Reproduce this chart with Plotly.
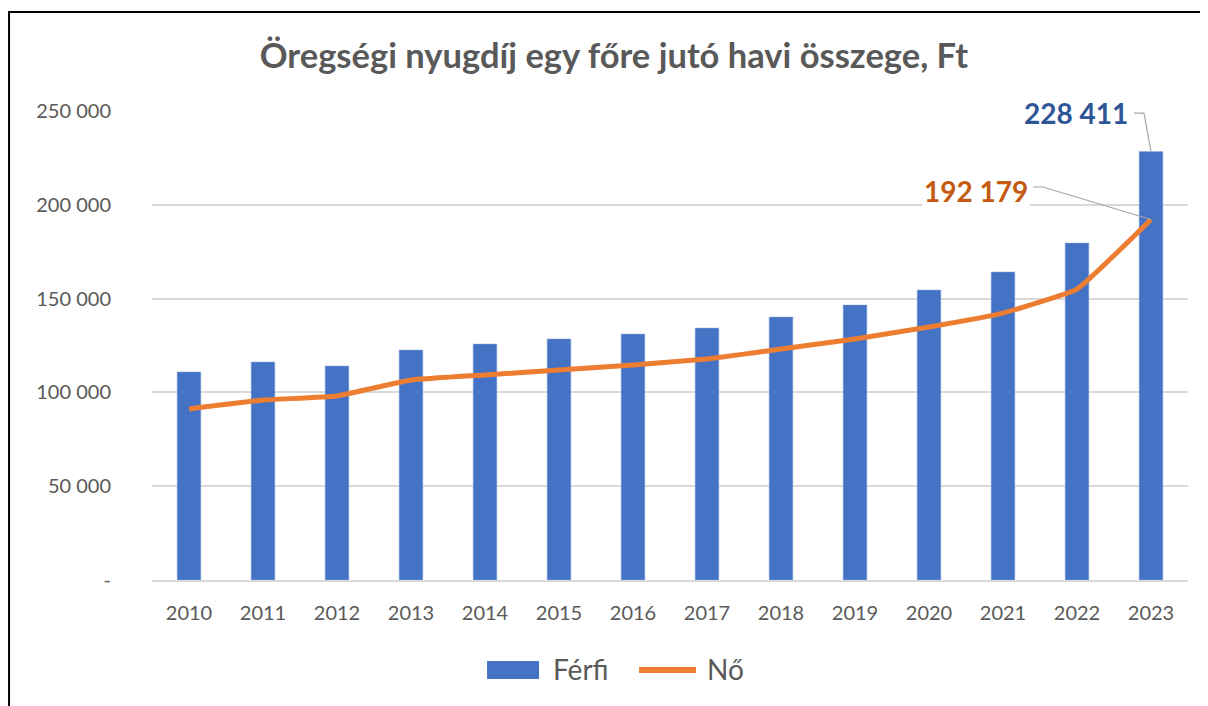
import plotly.graph_objects as go

# ── Adatok ──
years = [2010, 2011, 2012, 2013, 2014, 2015, 2016, 2017, 2018, 2019, 2020, 2021, 2022, 2023]
ferfi = [110900, 116200, 114100, 122600, 125800, 128500, 131100, 134300, 140200, 146600, 154600, 164200, 179600, 228411]
no = [91200, 95900, 98100, 106600, 109300, 111900, 114600, 117800, 123100, 128500, 134900, 142300, 155100, 192179]
y_ticks = [0, 50000, 100000, 150000, 200000, 250000]
y_ticktext = ["-", "50 000", "100 000", "150 000", "200 000", "250 000"]

FONT = "Lato, Open Sans, sans-serif"
GREY = "#595959"
BLUE = "#4472C4"
ORANGE = "#ED7D31"


def fmt(v):
    return f"{v:,}".replace(",", " ")


fig = go.Figure()

fig.add_trace(go.Bar(
    x=years, y=ferfi, name="Férfi", showlegend=False,
    marker=dict(color=BLUE, line=dict(color="#8FAADC", width=0.5)),
))
fig.add_trace(go.Scatter(
    x=years, y=no, name="Nő", mode="lines", showlegend=False,
    line=dict(color=ORANGE, width=5, shape="spline", smoothing=0.3),
))

# ── Adatcímkék 2023-ra, vezetővonallal ──
last_x = years[-1]
fig.add_annotation(
    x=last_x - 0.28, y=248900, xref="x", yref="y",
    text=f"<b>{fmt(ferfi[-1])}</b>", showarrow=False,
    xanchor="right", yanchor="middle",
    font=dict(family=FONT, size=28, color="#2F5597"),
    bgcolor="white",
)
fig.add_annotation(
    x=last_x - 1.63, y=207400, xref="x", yref="y",
    text=f"<b>{fmt(no[-1])}</b>", showarrow=False,
    xanchor="right", yanchor="middle",
    font=dict(family=FONT, size=28, color="#C55A11"),
    bgcolor="white",
)
fig.add_shape(
    type="path", xref="x", yref="y",
    path=f"M {last_x - 0.23},248900 L {last_x - 0.095},248900 L {last_x},{ferfi[-1]}",
    line=dict(color="#A6A6A6", width=1.2),
)
fig.add_shape(
    type="path", xref="x", yref="y",
    path=f"M {last_x - 1.59},209500 L {last_x - 1.46},209500 L {last_x},{no[-1]}",
    line=dict(color="#A6A6A6", width=1.2),
)

# ── Jelmagyarázat (Excel-szerű, nagy jelekkel) ──
fig.add_shape(type="rect", xref="paper", yref="paper",
              x0=0.3234, x1=0.3736, y0=-0.2111, y1=-0.1727,
              fillcolor=BLUE, line=dict(width=0))
fig.add_annotation(x=0.3851, y=-0.1898, xref="paper", yref="paper",
                   text=fig.data[0].name, showarrow=False,
                   xanchor="left", yanchor="middle",
                   font=dict(family=FONT, size=28, color=GREY))
fig.add_shape(type="line", xref="paper", yref="paper",
              x0=0.4701, x1=0.5251, y0=-0.1919, y1=-0.1919,
              line=dict(color=ORANGE, width=6))
fig.add_annotation(x=0.5338, y=-0.1898, xref="paper", yref="paper",
                   text=fig.data[1].name, showarrow=False,
                   xanchor="left", yanchor="middle",
                   font=dict(family=FONT, size=28, color=GREY))

# ── Keret (bal és felső vonal) ──
fig.add_shape(type="line", xref="paper", yref="paper",
              x0=-0.138, x1=-0.138, y0=1.212, y1=-0.30,
              line=dict(color="black", width=2))
fig.add_shape(type="line", xref="paper", yref="paper",
              x0=-0.139, x1=1.05, y0=1.211, y1=1.211,
              line=dict(color="black", width=2))

# Az oldal 8 px-es body-margóját kompenzáljuk
fig.update_layout(
    width=1200, height=698,
    margin=dict(l=144, r=20, t=103, b=126),
    paper_bgcolor="white", plot_bgcolor="white",
    font=dict(family=FONT, color=GREY),
    showlegend=False,
    title=dict(
        text="<b>Öregségi nyugdíj egy főre jutó havi összege, Ft</b>",
        font=dict(family=FONT, size=34.5, color=GREY),
        x=0.505, xanchor="center", xref="container",
        y=0.931, yanchor="middle", yref="container",
    ),
    bargap=0.68,
    xaxis=dict(
        tickmode="array", tickvals=years, ticktext=[str(y) for y in years],
        range=[years[0] - 0.5, years[-1] + 0.5],
        showgrid=False, zeroline=False,
        showline=True, linecolor="#D9D9D9", linewidth=1.5,
        ticks="", ticklabelstandoff=14,
        tickfont=dict(family=FONT, size=20, color=GREY),
    ),
    yaxis=dict(
        range=[0, 250000],
        tickmode="array", tickvals=y_ticks, ticktext=y_ticktext,
        showgrid=True, gridcolor="#D9D9D9", gridwidth=1.5,
        zeroline=False, showline=False, ticks="",
        ticklabelstandoff=40,
        tickfont=dict(family=FONT, size=20, color=GREY),
    ),
)

fig.write_html("out.html")
